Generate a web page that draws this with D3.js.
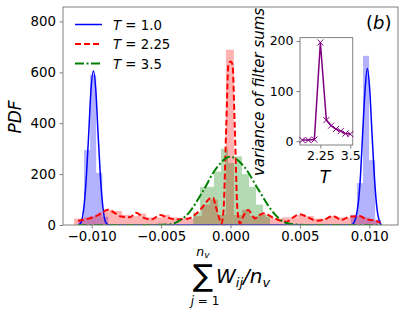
<!DOCTYPE html>
<html><head><meta charset="utf-8">
<script src="https://cdn.jsdelivr.net/npm/d3@7"></script>
<style>body{margin:0;background:#fff} text{font-family:"DejaVu Sans",sans-serif}</style>
</head><body><svg id="c" width="404" height="313"></svg>
<script>
// ---------- data ----------
const xTicks = [-0.010, -0.005, 0.000, 0.005, 0.010];
const xTickLabels = ["\u22120.010", "\u22120.005", "0.000", "0.005", "0.010"];
const yTicks = [0, 200, 400, 600, 800];
const seriesT = ["1.0", "2.25", "3.5"];

// histograms (density), bins: start, width, heights
const blueBinStart = -0.01099, blueBinWidth = 0.000437;
const blueHeights = [20, 295, 590, 205, 33,
  0,0,0,0,0,0,0,0,0,0, 0,0,0,0,0,0,0,0,0,0, 0,0,0,0,0,0,0,0,0,0, 0,0,0,0,0,0,0,0,0,0,
  40, 165, 665, 255, 20];
const redBinStart = -0.011275, redBinWidth = 0.000576;
const redHeights = [25, 30, 35, 50, 60, 55, 40, 35, 45, 30, 30, 40, 30, 25, 25, 35, 80, 100, 40,
  689, 40, 60, 35, 45, 30, 25, 30, 30, 40, 35, 25, 25, 35, 30, 30, 35, 30, 20];
const greenBinStart = -0.00270, greenBinWidth = 0.000504;
const greenHeights = [50, 150, 150, 210, 300, 244, 270, 200, 150, 80, 40];

// KDE curves
const blueKdeX = [-0.01099, -0.01080, -0.01054, -0.01038, -0.01021, -0.01005, -0.00988, -0.00971, -0.00955, -0.00938, -0.00922, -0.00896, -0.00870,
  -0.0060, 0.0, 0.0060,
  0.00870, 0.00887, 0.00920, 0.00937, 0.00953, 0.00970, 0.00986, 0.01003, 0.01019, 0.01036, 0.01052, 0.01078, 0.01088];
const blueKdeY = [0, 7, 82, 196, 367, 534, 605, 534, 367, 196, 82, 7, 0,
  0, 0, 0,
  0, 7, 82, 196, 367, 534, 615, 534, 367, 196, 82, 7, 0];
const redKdeX = [-0.01099, -0.01045, -0.00990, -0.00930, -0.00885, -0.00836, -0.00788, -0.00727, -0.00679, -0.00628, -0.00568, -0.00508, -0.00457,
  -0.00400, -0.00300, -0.00245, -0.00195, -0.00148, -0.00126, -0.00107, -0.00080, -0.00065, -0.00050, -0.00030, -0.00015, 0.0, 0.00015, 0.00030,
  0.00050, 0.00068, 0.00088, 0.00128, 0.00176, 0.00236, 0.00318, 0.00404, 0.00452, 0.00500, 0.00548, 0.00620, 0.00668, 0.00740, 0.00800, 0.00860,
  0.00932, 0.00980, 0.01044, 0.01080];
const redKdeY = [17, 22, 30, 46, 60, 48, 33, 30, 48, 29, 22, 39, 30,
  22, 26, 45, 75, 105, 108, 75, 24, 5, 60, 400, 630, 643, 630, 400,
  60, 5, 30, 59, 26, 46, 26, 13, 30, 42, 33, 17, 20, 35, 20, 33,
  35, 22, 17, 9];
const greenKdeX = [-0.01099, -0.0060, -0.0045, -0.0038, -0.0030, -0.0020, -0.0010, 0.0, 0.0010, 0.0020, 0.0030, 0.0038, 0.0045, 0.0060, 0.01088];
const greenKdeY = [0, 0, 2, 13, 48, 132, 225, 268, 228, 140, 55, 13, 3, 0, 0];

// inset
const insetT = [1.5, 1.75, 2.0, 2.25, 2.5, 2.7, 2.9, 3.1, 3.3, 3.5];
const insetVar = [2, 2, 3, 197, 42, 31, 24, 20, 15, 14];
const insetXTicks = [2.25, 3.5];
const insetYTicks = [0, 100, 200];

// ---------- drawing ----------
const svg = d3.select("#c");
svg.append("rect").attr("width", 404).attr("height", 313).attr("fill", "#fff");
const L = 63, R = 398, T = 7, B = 225;
const x = d3.scaleLinear().domain([-0.01207, 0.01207]).range([L, R]);
const y = d3.scaleLinear().domain([0, 857]).range([B, T]);

const defs = svg.append("defs");
defs.append("clipPath").attr("id", "clipMain").append("rect").attr("x", L).attr("y", T).attr("width", R - L).attr("height", B - T);
const plot = svg.append("g").attr("clip-path", "url(#clipMain)");

function bars(start, w, hs, color) {
  const data = hs.map((h, i) => ({x0: start + i * w, x1: start + (i + 1) * w, h}));
  plot.append("g").selectAll("rect").data(data.filter(d => d.h > 0)).join("rect")
    .attr("x", d => x(d.x0)).attr("width", d => x(d.x1) - x(d.x0))
    .attr("y", d => y(d.h)).attr("height", d => y(0) - y(d.h))
    .attr("fill", color).attr("fill-opacity", 0.3);
}
const cBlue = "#0000ff", cRed = "#ff0000", cGreen = "#008000";
bars(blueBinStart, blueBinWidth, blueHeights, cBlue);
bars(redBinStart, redBinWidth, redHeights, cRed);
bars(greenBinStart, greenBinWidth, greenHeights, cGreen);

const line = d3.line().x(d => x(d[0])).y(d => y(d[1])).curve(d3.curveMonotoneX);
function kde(xs, ys, color, dash, w) {
  plot.append("path").datum(xs.map((v, i) => [v, ys[i]])).attr("d", line)
    .attr("fill", "none").attr("stroke", color).attr("stroke-width", w)
    .attr("stroke-dasharray", dash);
}
kde(blueKdeX, blueKdeY, cBlue, null, 1.5);
kde(redKdeX, redKdeY, cRed, "6,3", 2);
kde(greenKdeX, greenKdeY, cGreen, "9,2.5,2,2.5", 2);

// frame
const spine = "#808080";
svg.append("rect").attr("x", L).attr("y", T).attr("width", R - L).attr("height", B - T)
  .attr("fill", "none").attr("stroke", spine).attr("stroke-width", 1);

// axes
const xAxis = svg.append("g").attr("transform", `translate(0,${B})`)
  .call(d3.axisBottom(x).tickValues(xTicks).tickFormat((d, i) => xTickLabels[i]).tickSize(3.5).tickPadding(3.5));
const yAxis = svg.append("g").attr("transform", `translate(${L},0)`)
  .call(d3.axisLeft(y).tickValues(yTicks).tickSize(3.5).tickPadding(3.5));
[xAxis, yAxis].forEach(a => {
  a.select(".domain").remove();
  a.selectAll(".tick line").attr("stroke", spine);
  a.selectAll(".tick text").attr("font-size", 13.3).attr("fill", "#000").attr("font-family", "DejaVu Sans");
});

// y label
svg.append("text").attr("transform", "translate(21,117) rotate(-90)").attr("text-anchor", "middle")
  .attr("font-size", 17).attr("font-style", "italic").text("PDF");

// x label (math)
const xl = svg.append("g");
xl.append("text").attr("x", 193).attr("y", 286).attr("font-size", 30).text("\u2211");
xl.append("text").attr("x", 203).attr("y", 256).attr("font-size", 12.5).attr("font-style", "italic").attr("text-anchor", "middle")
  .text("n").append("tspan").attr("font-size", 9).attr("dy", 2).text("v");
xl.append("text").attr("x", 205).attr("y", 305).attr("font-size", 12).attr("text-anchor", "middle")
  .html('<tspan font-style="italic">j</tspan> = 1');
const wl = xl.append("text").attr("x", 216).attr("y", 283).attr("font-size", 20).attr("font-style", "italic");
wl.append("tspan").text("W");
wl.append("tspan").attr("font-size", 13).attr("dy", 4).text("ij");
wl.append("tspan").attr("dy", -4).text("/n");
wl.append("tspan").attr("font-size", 13).attr("dy", 4).text("v");

// legend
const legY = [24.5, 44, 63.5];
const legStyles = [[cBlue, null, 1.5], [cRed, "6,3", 2], [cGreen, "9,2.5,2,2.5", 2]];
seriesT.forEach((t, i) => {
  svg.append("line").attr("x1", 75).attr("x2", 102).attr("y1", legY[i]).attr("y2", legY[i])
    .attr("stroke", legStyles[i][0]).attr("stroke-width", legStyles[i][2]).attr("stroke-dasharray", legStyles[i][1]);
  const tx = svg.append("text").attr("x", 113).attr("y", legY[i] + 5).attr("font-size", 13.3);
  tx.append("tspan").attr("font-style", "italic").text("T");
  tx.append("tspan").text(" = " + t);
});

// (b)
const bl = svg.append("text").attr("x", 366).attr("y", 29).attr("font-size", 18);
bl.append("tspan").text("(");
bl.append("tspan").attr("font-style", "italic").text("b");
bl.append("tspan").text(")");

// inset
const iL = 300, iR = 352.7, iT = 37.6, iB = 145;
const xi = d3.scaleLinear().domain([1.4, 3.6]).range([iL, iR]);
const yi = d3.scaleLinear().domain([-7.75, 206.75]).range([iB, iT]);
const ins = svg.append("g");
ins.append("rect").attr("x", iL).attr("y", iT).attr("width", iR - iL).attr("height", iB - iT)
  .attr("fill", "#fff").attr("fill-opacity", 0).attr("stroke", spine);
const purple = "#800080";
ins.append("path").datum(insetT.map((t, i) => [t, insetVar[i]]))
  .attr("d", d3.line().x(d => xi(d[0])).y(d => yi(d[1])))
  .attr("fill", "none").attr("stroke", purple).attr("stroke-width", 1.5);
const ms = 3;
ins.append("g").selectAll("path").data(insetT.map((t, i) => [t, insetVar[i]])).join("path")
  .attr("d", d => `M${xi(d[0]) - ms},${yi(d[1]) - ms}L${xi(d[0]) + ms},${yi(d[1]) + ms}M${xi(d[0]) - ms},${yi(d[1]) + ms}L${xi(d[0]) + ms},${yi(d[1]) - ms}`)
  .attr("stroke", purple).attr("stroke-width", 1);
const ixa = ins.append("g").attr("transform", `translate(0,${iB})`)
  .call(d3.axisBottom(xi).tickValues(insetXTicks).tickFormat(d => String(d)).tickSize(3.5).tickPadding(3));
const iya = ins.append("g").attr("transform", `translate(${iL},0)`)
  .call(d3.axisLeft(yi).tickValues(insetYTicks).tickSize(3.5).tickPadding(3));
[ixa, iya].forEach(a => {
  a.select(".domain").remove();
  a.selectAll(".tick line").attr("stroke", spine);
  a.selectAll(".tick text").attr("font-size", 12.5).attr("fill", "#000").attr("font-family", "DejaVu Sans");
});
ins.append("text").attr("x", 325).attr("y", 183).attr("text-anchor", "middle").attr("font-size", 17).attr("font-style", "italic").text("T");
ins.append("text").attr("transform", "translate(264,92) rotate(-90)").attr("text-anchor", "middle")
  .attr("font-size", 15).attr("font-style", "italic").text("variance of filter sums");
</script></body></html>
